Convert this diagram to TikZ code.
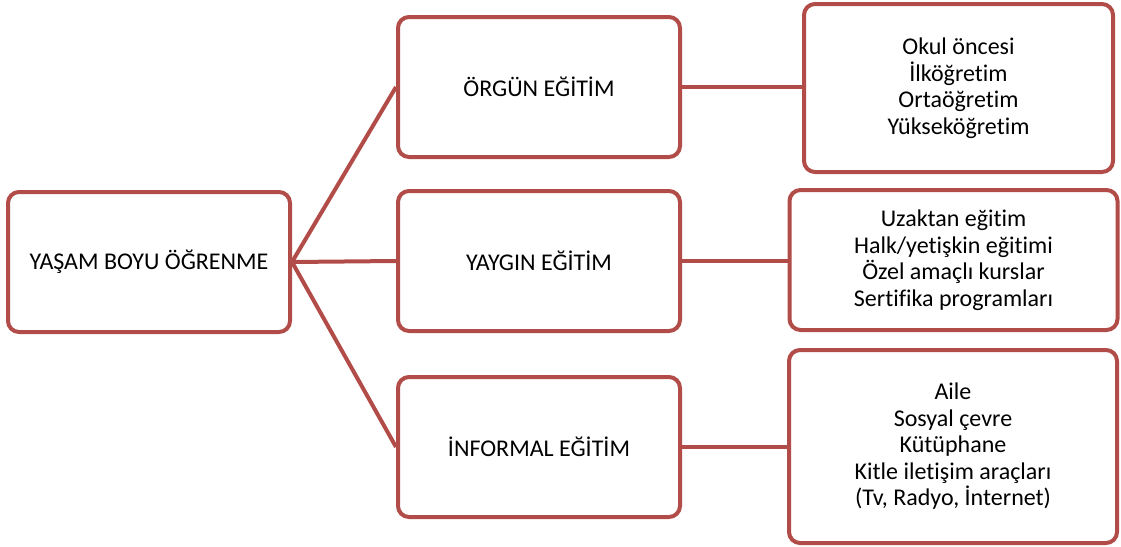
\documentclass[tikz,border=0pt]{standalone}
\usepackage{fontspec}
\setmainfont[Ligatures={NoCommon}]{Carlito}
\definecolor{boxred}{RGB}{178,76,72}
\begin{document}
\begin{tikzpicture}[x=1pt,y=-1pt,
  box/.style={draw=boxred,line width=4pt,rounded corners=11pt,fill=white,align=center,
    font=\fontsize{24}{26.5}\selectfont,inner sep=0pt},
  conn/.style={draw=boxred,line width=4pt}]
\useasboundingbox (0,0) rectangle (1121,546);
\node[box,minimum width=282pt,minimum height=140pt] (L) at (149,262) {YAŞAM BOYU ÖĞRENME};
\node[box,minimum width=282pt,minimum height=140pt] (M1) at (539,87) {ÖRGÜN EĞİTİM};
\node[box,minimum width=282pt,minimum height=140pt] (M2) at (539,261) {YAYGIN EĞİTİM};
\node[box,minimum width=282pt,minimum height=140pt] (M3) at (539,447) {İNFORMAL EĞİTİM};
\node[box,minimum width=309pt,minimum height=168pt] (R1) at (958.5,88) {Okul öncesi\\İlköğretim\\Ortaöğretim\\Yükseköğretim};
\node[box,minimum width=328pt,minimum height=140pt] (R2) at (953.5,260) {Uzaktan eğitim\\Halk/yetişkin eğitimi\\Özel amaçlı kurslar\\Sertifika programları};
\node[box,minimum width=328pt,minimum height=193pt] (R3) at (953,446.5) {Aile\\Sosyal çevre\\Kütüphane\\Kitle iletişim araçları\\(Tv, Radyo, İnternet)};
\draw[conn] (L.east) -- (M1.west);
\draw[conn] (L.east) -- (M2.west);
\draw[conn] (L.east) -- (M3.west);
\draw[conn] (M1.east) -- (M1.east -| R1.west);
\draw[conn] (M2.east) -- (M2.east -| R2.west);
\draw[conn] (M3.east) -- (M3.east -| R3.west);
\end{tikzpicture}
\end{document}
